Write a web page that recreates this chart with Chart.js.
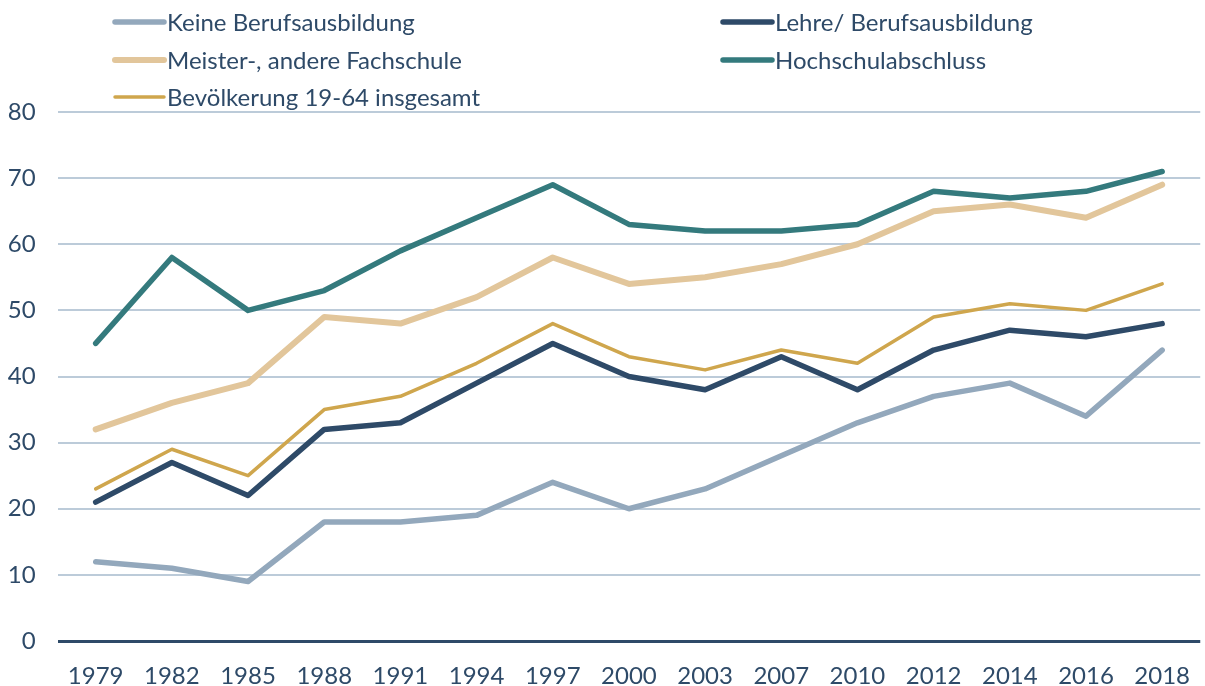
<!DOCTYPE html>
<html>
<head>
<meta charset="utf-8">
<script src="https://cdn.jsdelivr.net/npm/chart.js@4"></script>
<style>
html,body{margin:0;padding:0;background:#fff;overflow:hidden;}
#wrap{position:relative;width:1211px;height:686px;}
</style>
</head>
<body>
<div id="wrap"><canvas id="c"></canvas></div>
<script>
const years = ['1979','1982','1985','1988','1991','1994','1997','2000','2003','2007','2010','2012','2014','2016','2018'];
const keineBerufsausbildung = [12, 11, 9, 18, 18, 19, 24, 20, 23, 28, 33, 37, 39, 34, 44];
const lehreBerufsausbildung = [21, 27, 22, 32, 33, 39, 45, 40, 38, 43, 38, 44, 47, 46, 48];
const meisterFachschule = [32, 36, 39, 49, 48, 52, 58, 54, 55, 57, 60, 65, 66, 64, 69];
const hochschulabschluss = [45, 58, 50, 53, 59, 64, 69, 63, 62, 62, 63, 68, 67, 68, 71];
const bevoelkerungGesamt = [23, 29, 25, 35, 37, 42, 48, 43, 41, 44, 42, 49, 51, 50, 54];
const seriesLabels = ['Keine Berufsausbildung','Lehre/ Berufsausbildung','Meister-, andere Fachschule','Hochschulabschluss','Bevölkerung 19-64 insgesamt'];
const yTicks = [0,10,20,30,40,50,60,70,80];

const textColor = '#2e4a68';
const FONT = 'Lato';

// legend slot positions (layout only)
const legendSlots = [
  {x:115, y:22}, {x:723, y:22},
  {x:115, y:60}, {x:723, y:60},
  {x:115, y:97}
];

const legendPlugin = {
  id: 'customLegend',
  afterDraw(chart) {
    const ctx = chart.ctx;
    ctx.save();
    chart.data.datasets.forEach((ds, i) => {
      const s = legendSlots[i];
      ctx.beginPath();
      ctx.strokeStyle = ds.borderColor;
      ctx.lineWidth = ds.borderWidth;
      ctx.lineCap = 'round';
      ctx.moveTo(s.x, s.y);
      ctx.lineTo(s.x + 49, s.y);
      ctx.stroke();
      ctx.fillStyle = textColor;
      ctx.font = '24px ' + FONT;
      ctx.textBaseline = 'middle';
      ctx.textAlign = 'left';
      ctx.fillText(ds.label, s.x + 52, s.y + 1);
    });
    ctx.restore();
  }
};

function ds(label, data, color, width) {
  return {label, data, borderColor: color, backgroundColor: color, borderWidth: width,
    pointRadius: 0, pointHoverRadius: 0, tension: 0, fill: false,
    borderJoinStyle: 'round', borderCapStyle: 'round'};
}

new Chart(document.getElementById('c'), {
  type: 'line',
  data: {
    labels: years,
    datasets: [
      ds(seriesLabels[0], keineBerufsausbildung, '#93a8bc', 5.5),
      ds(seriesLabels[1], lehreBerufsausbildung, '#2e4a68', 5.5),
      ds(seriesLabels[2], meisterFachschule, '#e2c69b', 6),
      ds(seriesLabels[3], hochschulabschluss, '#347a7d', 5.5),
      ds(seriesLabels[4], bevoelkerungGesamt, '#cfa64d', 3.5)
    ]
  },
  options: {
    responsive: true,
    maintainAspectRatio: false,
    animation: false,
    layout: {padding: {top: 112, right: 0, bottom: 0, left: 0}},
    plugins: {legend: {display: false}, tooltip: {enabled: false}},
    scales: {
      x: {
        offset: true,
        grid: {display: false, drawTicks: false},
        border: {display: false},
        ticks: {color: textColor, font: {family: FONT, size: 24}, padding: 21, maxRotation: 0, autoSkip: false},
        afterFit(scale) { scale.height = 45; }
      },
      y: {
        min: 0, max: 80,
        afterBuildTicks(scale) { scale.ticks = yTicks.map(v => ({value: v})); },
        grid: {
          color: ctx => ctx.tick && ctx.tick.value === 0 ? '#2e4a68' : '#bccbd9',
          lineWidth: ctx => ctx.tick && ctx.tick.value === 0 ? 3 : 2,
          drawTicks: false
        },
        border: {display: false},
        ticks: {color: textColor, font: {family: FONT, size: 24}, padding: 22},
        afterFit(scale) { scale.width = 57.6; }
      }
    }
  },
  plugins: [legendPlugin]
});
</script>
</body>
</html>
